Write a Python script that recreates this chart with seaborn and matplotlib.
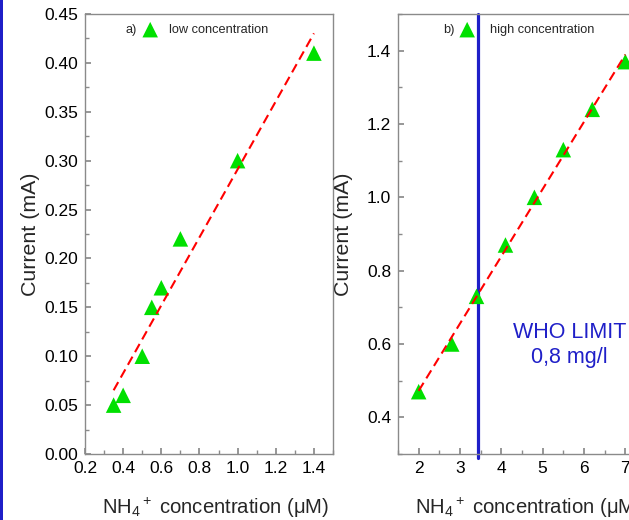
import matplotlib
matplotlib.use("Agg")
import matplotlib.pyplot as plt
from matplotlib.patches import Rectangle
from matplotlib.ticker import MultipleLocator
import seaborn as sns

# data
low_conc = [0.35, 0.40, 0.50, 0.55, 0.60, 0.70, 1.00, 1.40]
low_current = [0.05, 0.06, 0.10, 0.15, 0.17, 0.22, 0.30, 0.41]
high_conc = [2.0, 2.8, 3.4, 4.1, 4.8, 5.5, 6.2, 7.0]
high_current = [0.47, 0.60, 0.73, 0.87, 1.00, 1.13, 1.24, 1.37]
who_limit = 3.43

green = "#00e000"
blue = "#1f1fc8"
gray = "#8a8a8a"

sns.set_theme(style="ticks")
plt.rcParams["font.family"] = ["Liberation Sans", "DejaVu Sans"]
plt.rcParams["mathtext.fontset"] = "custom"
plt.rcParams["mathtext.rm"] = "Liberation Sans"
plt.rcParams["mathtext.it"] = "Liberation Sans:italic"
plt.rcParams["mathtext.bf"] = "Liberation Sans:bold"

fig = plt.figure(figsize=(6.29, 5.20), dpi=100)
fig.patch.set_facecolor("white")
ax1 = fig.add_axes([85 / 629, 66 / 520, 248 / 629, 440 / 520])
ax2 = fig.add_axes([398 / 629, 66 / 520, 248 / 629, 440 / 520])

# blue stripe on the left edge of the slide
fig.add_artist(Rectangle((0, 0), 2.7 / 629, 1, transform=fig.transFigure,
                         color=blue, lw=0))


def panel(ax, x, y, tag, label, leg_x, tag_x, textpad):
    sns.scatterplot(x=x, y=y, marker="^", s=125, color=green, edgecolor="none",
                    label=label, ax=ax, zorder=3)
    sns.regplot(x=x, y=y, scatter=False, ci=None, ax=ax,
                line_kws=dict(color="red", ls=(0, (4.5, 2.5)), lw=1.5, zorder=4))
    ax.legend(loc="center left", bbox_to_anchor=(leg_x, 0.9636), frameon=False,
              fontsize=9.2, handlelength=1.2, handletextpad=textpad,
              borderpad=0, borderaxespad=0)
    ax.text(tag_x, 0.9636, tag, transform=ax.transAxes, ha="right",
            va="center", fontsize=9.2)
    for s in ax.spines.values():
        s.set_color(gray)
        s.set_linewidth(1)
    ax.tick_params(which="both", direction="in", color=gray, labelsize=12.5,
                   pad=5, top=False, right=False, labelcolor="black")
    ax.tick_params(which="major", length=4.5)
    ax.tick_params(which="minor", length=3)
    ax.set_ylabel("Current (mA)", fontsize=15.4)
    ax.set_xlabel(r"NH$_4$$^+$ concentration (μM)", fontsize=14.6)
    ax.yaxis.set_label_coords(-0.182, 0.5)
    ax.xaxis.set_label_coords(0.526, -0.095)


panel(ax1, low_conc, low_current, "a)", "low concentration", 0.232, 0.21, 0.9)
ax1.set_xlim(0.2, 1.5)
ax1.set_ylim(0, 0.45)
ax1.xaxis.set_major_locator(MultipleLocator(0.2))
ax1.xaxis.set_minor_locator(MultipleLocator(0.1))
ax1.yaxis.set_major_locator(MultipleLocator(0.05))
ax1.yaxis.set_minor_locator(MultipleLocator(0.025))
ax1.set_xticks([0.2, 0.4, 0.6, 0.8, 1.0, 1.2, 1.4])

panel(ax2, high_conc, high_current, "b)", "high concentration", 0.248, 0.23, 1.15)
ax2.set_xlim(1.5, 7.5)
ax2.set_ylim(0.3, 1.5)
ax2.xaxis.set_major_locator(MultipleLocator(1))
ax2.xaxis.set_minor_locator(MultipleLocator(0.5))
ax2.yaxis.set_major_locator(MultipleLocator(0.2))
ax2.yaxis.set_minor_locator(MultipleLocator(0.1))
ax2.set_yticks([0.4, 0.6, 0.8, 1.0, 1.2, 1.4])
ax2.axvline(who_limit, ymin=-0.008, ymax=1, color=blue, lw=2.3,
            clip_on=False, zorder=2)
ax2.text(5.65, 0.597, "WHO LIMIT\n0,8 mg/l", ha="center", va="center",
         fontsize=15.5, color=blue)

fig.savefig("out.png", dpi=100)
